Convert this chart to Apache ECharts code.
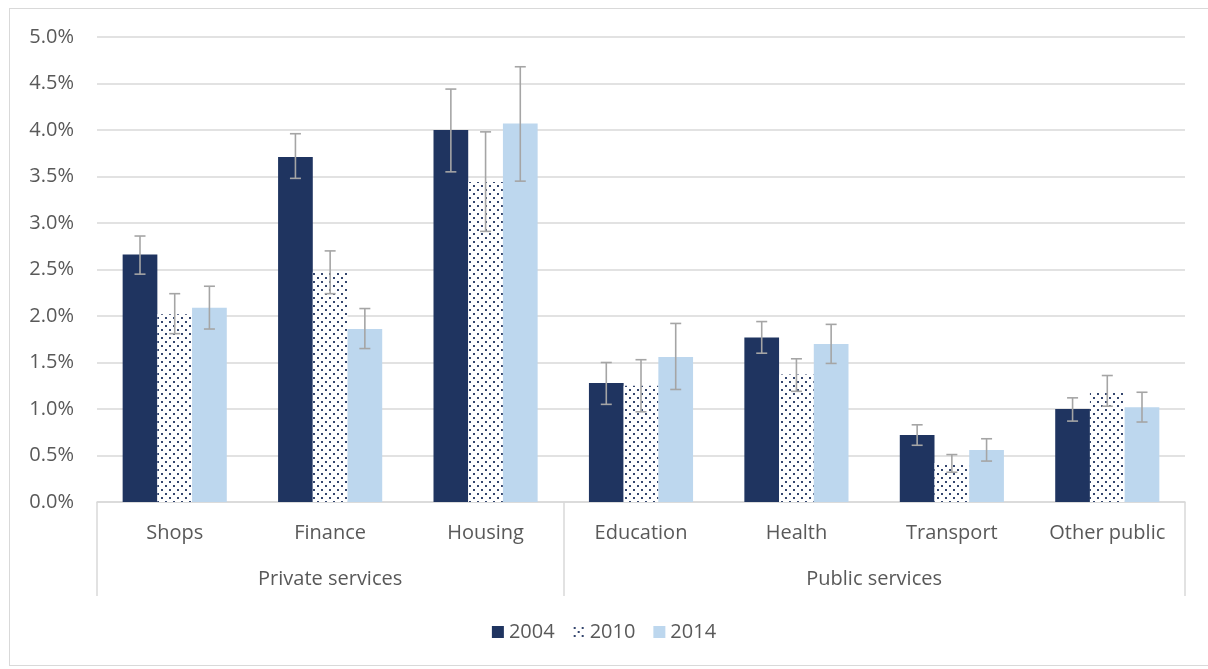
<!DOCTYPE html>
<html>
<head>
<meta charset="utf-8">
<script src="https://cdn.jsdelivr.net/npm/echarts@6/dist/echarts.min.js"></script>
<style>
  html, body { margin: 0; padding: 0; background: #fff; }
  #frame { position: absolute; left: 9px; top: 8px; width: 1210px; height: 658px; border: 1.5px solid #D9D9D9; box-sizing: border-box; }
  #chart { position: absolute; left: 0; top: 0; width: 1208px; height: 669px; }
</style>
</head>
<body>
<div id="frame"></div>
<div id="chart"></div>
<script>
// ---- data ----
const categories = ['Shops', 'Finance', 'Housing', 'Education', 'Health', 'Transport', 'Other public'];
const groupNames = ['Private services', 'Public services'];
const groupSizes = [3, 4];
const years = ['2004', '2010', '2014'];

const values2004 = [2.66, 3.71, 4.00, 1.28, 1.77, 0.72, 1.00];
const values2010 = [2.02, 2.47, 3.44, 1.25, 1.37, 0.42, 1.19];
const values2014 = [2.09, 1.86, 4.07, 1.56, 1.70, 0.56, 1.02];

const low2004  = [2.45, 3.48, 3.55, 1.05, 1.60, 0.61, 0.87];
const high2004 = [2.86, 3.96, 4.44, 1.50, 1.94, 0.83, 1.12];
const low2010  = [1.81, 2.24, 2.91, 0.97, 1.19, 0.32, 1.03];
const high2010 = [2.24, 2.70, 3.98, 1.53, 1.54, 0.51, 1.36];
const low2014  = [1.86, 1.65, 3.45, 1.21, 1.49, 0.44, 0.86];
const high2014 = [2.32, 2.08, 4.68, 1.92, 1.91, 0.68, 1.18];

const yTicks = [0, 0.5, 1.0, 1.5, 2.0, 2.5, 3.0, 3.5, 4.0, 4.5, 5.0];

// ---- styles ----
const textColor = '#595959';
const fontFamily = 'Open Sans, Noto Sans, sans-serif';
const fontSize = 20;
const navy = '#1F3460';
const light = '#BDD7EE';
const errColor = '#A5A5A5';
const catGap = 0.33;

// dotted pattern
const pat = document.createElement('canvas');
pat.width = 8; pat.height = 8;
const pc = pat.getContext('2d');
pc.fillStyle = '#ffffff';
pc.fillRect(0, 0, 8, 8);
pc.fillStyle = '#34466e';
pc.fillRect(1, 1, 2, 2);
pc.fillRect(5, 5, 2, 2);
const dotted = { image: pat, repeat: 'repeat' };

const values = [values2004, values2010, values2014];
const lows = [low2004, low2010, low2014];
const highs = [high2004, high2010, high2014];
const colors = [navy, dotted, light];

// group boundaries and centres (in category units)
const bounds = [0];
const centres = [];
groupSizes.forEach(s => { const b = bounds[bounds.length - 1]; centres.push(b + s / 2); bounds.push(b + s); });

const errData = [];
for (let s = 0; s < 3; s++) {
  for (let i = 0; i < categories.length; i++) {
    errData.push([i, lows[s][i], highs[s][i], s]);
  }
}

const chart = echarts.init(document.getElementById('chart'));
const series = years.map((y, s) => ({
  name: y,
  type: 'bar',
  data: values[s],
  barGap: '0%',
  barCategoryGap: (catGap * 100) + '%',
  itemStyle: { color: colors[s] },
  emphasis: { disabled: true }
}));
series.push({
  type: 'custom',
  xAxisIndex: 0,
  data: errData,
  encode: { x: 0, y: [1, 2] },
  z: 10,
  silent: true,
  renderItem: function (params, api) {
    const cat = api.value(0);
    const s = api.value(3);
    const band = api.size([1, 0])[0];
    const bw = band * (1 - catGap) / 3;
    const c = api.coord([cat, 0]);
    const x = c[0] + (s - 1) * bw;
    const top = api.coord([cat, api.value(2)])[1];
    const bot = api.coord([cat, api.value(1)])[1];
    const hw = 5.5;
    const st = { stroke: errColor, lineWidth: 1.6, fill: null };
    return {
      type: 'group',
      children: [
        { type: 'line', shape: { x1: x, y1: top, x2: x, y2: bot }, style: st },
        { type: 'line', shape: { x1: x - hw, y1: top, x2: x + hw, y2: top }, style: st },
        { type: 'line', shape: { x1: x - hw, y1: bot, x2: x + hw, y2: bot }, style: st }
      ]
    };
  }
});

chart.setOption({
  animation: false,
  textStyle: { fontFamily: fontFamily },
  grid: { left: 97, right: 23, top: 37, bottom: 167 },
  legend: {
    data: years,
    bottom: 22,
    left: 'center',
    itemWidth: 12,
    itemHeight: 12,
    itemGap: 18,
    icon: 'rect',
    textStyle: { color: textColor, fontSize: fontSize, fontFamily: fontFamily },
    selectedMode: false
  },
  xAxis: [
    {
      type: 'category',
      data: categories,
      axisLine: { show: true, lineStyle: { color: '#D9D9D9', width: 1.5 } },
      axisTick: { show: false },
      axisLabel: { color: textColor, fontSize: fontSize, margin: 21, interval: 0, fontFamily: fontFamily }
    },
    {
      type: 'value',
      min: 0,
      max: categories.length,
      position: 'bottom',
      axisLine: { show: false },
      splitLine: { show: false },
      axisTick: { show: true, length: 94, customValues: bounds, lineStyle: { color: '#D9D9D9', width: 1.5 } },
      axisLabel: {
        show: true,
        customValues: centres,
        margin: 67,
        color: textColor,
        fontSize: fontSize,
        fontFamily: fontFamily,
        formatter: function (v) {
          const idx = centres.findIndex(c => Math.abs(c - v) < 1e-6);
          return idx >= 0 ? groupNames[idx] : '';
        }
      }
    }
  ],
  yAxis: {
    type: 'value',
    min: yTicks[0],
    max: yTicks[yTicks.length - 1],
    interval: 0.5,
    axisLine: { show: false },
    axisTick: { show: false },
    splitLine: { lineStyle: { color: '#D9D9D9', width: 1.5 } },
    axisLabel: { color: textColor, fontSize: fontSize, margin: 23, fontFamily: fontFamily, formatter: v => v.toFixed(1) + '%' }
  },
  series: series
});
</script>
</body>
</html>
